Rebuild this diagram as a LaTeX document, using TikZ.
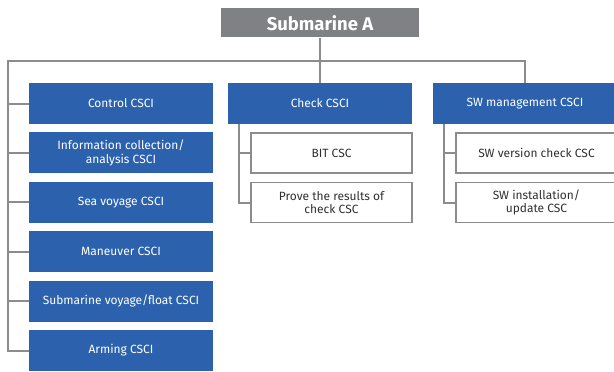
\documentclass[tikz,border=0pt]{standalone}
\usepackage{fontspec}
\setmainfont{Fira Sans}
\definecolor{csciblue}{HTML}{2C62AD}
\definecolor{topgrey}{HTML}{808184}
\definecolor{linegrey}{HTML}{8C8C8E}
\definecolor{txtdark}{HTML}{303030}
\tikzset{
  conn/.style={draw=linegrey, line width=2bp},
  csci/.style={rectangle, fill=csciblue, text=white, minimum width=184bp, minimum height=41bp,
    inner sep=0pt, align=center, font=\fontsize{12}{13.5}\selectfont},
  csc/.style={rectangle, draw=linegrey, line width=1.2bp, fill=white, text=txtdark,
    minimum width=161bp, minimum height=40bp, inner sep=0pt, align=center,
    font=\fontsize{12}{13.5}\selectfont},
  topbox/.style={rectangle, fill=topgrey, text=white, minimum width=198bp, minimum height=29bp,
    inner sep=0pt, font=\fontsize{18.5}{20}\selectfont\bfseries}
}
\begin{document}
\begin{tikzpicture}[x=1bp,y=-1bp]
\useasboundingbox (0,0) rectangle (614,371);
% root
\node[topbox] (root) at (320,22.8) {Submarine A};
% left column of CSCIs
\node[csci] (a1) at (121,103.5) {Control CSCI};
\node[csci] (a2) at (121,152.9) {Information collection/\\analysis CSCI};
\node[csci] (a3) at (121,202.3) {Sea voyage CSCI};
\node[csci] (a4) at (121,251.7) {Maneuver CSCI};
\node[csci] (a5) at (121,301.1) {Submarine voyage/float CSCI};
\node[csci] (a6) at (121,350.5) {Arming CSCI};
% middle and right CSCIs
\node[csci] (chk) at (320,103.5) {Check CSCI};
\node[csci] (swm) at (525,103.5) {SW management CSCI};
% CSCs
\node[csc] (bit) at (331.5,153) {BIT CSC};
\node[csc] (prv) at (331.5,202.5) {Prove the results of\\check CSC};
\node[csc] (swv) at (536.5,153) {SW version check CSC};
\node[csc] (swi) at (536.5,202.5) {SW installation/\\update CSC};
% bus coordinates
\coordinate (busL) at (8,61);
\coordinate (chkL) at (239,124);
\coordinate (swmL) at (444,124);
% connectors
\draw[conn] (root.south) -- (chk.north);
\draw[conn] (a6.west) -| (busL) -| (swm.north);
\foreach \n in {a1,a2,a3,a4,a5}{
  \draw[conn] (\n.west) -- (\n.west -| busL);
}
\draw[conn] (prv.west) -| (chkL);
\draw[conn] (bit.west) -- (bit.west -| chkL);
\draw[conn] (swi.west) -| (swmL);
\draw[conn] (swv.west) -- (swv.west -| swmL);
\end{tikzpicture}
\end{document}
